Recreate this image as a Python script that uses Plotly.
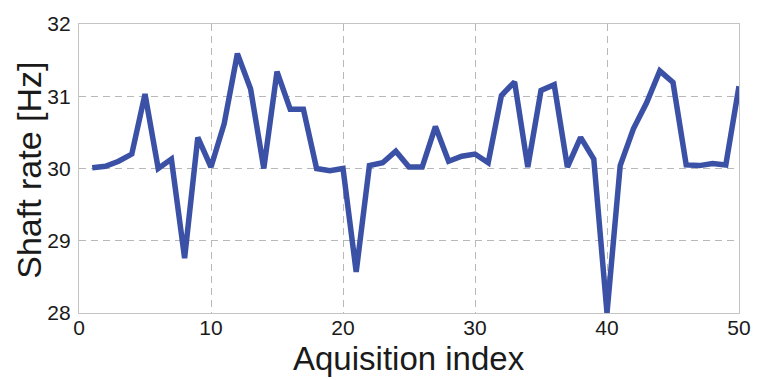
import plotly.graph_objects as go

acq_index = list(range(1, 51))
shaft_rate = [30.01, 30.03, 30.10, 30.20, 31.03, 30.00, 30.13, 28.76, 30.43, 30.02,
              30.62, 31.59, 31.10, 30.00, 31.34, 30.82, 30.82, 30.00, 29.97, 30.00,
              28.57, 30.04, 30.08, 30.24, 30.02, 30.02, 30.58, 30.10, 30.17, 30.20,
              30.08, 31.01, 31.20, 30.02, 31.08, 31.16, 30.02, 30.43, 30.13, 28.00,
              30.04, 30.55, 30.91, 31.35, 31.19, 30.05, 30.04, 30.07, 30.05, 31.14]
x_ticks = [0, 10, 20, 30, 40, 50]
y_ticks = [28, 29, 30, 31, 32]

FONT = "Liberation Sans, Arial, sans-serif"

fig = go.Figure()
fig.add_trace(go.Scatter(x=acq_index, y=shaft_rate, mode="lines",
                         line=dict(color="#3B51A6", width=5.5),
                         showlegend=False))

axis_common = dict(showgrid=True, griddash="7px,5px", gridcolor="#B8B8B8", gridwidth=1,
                   showline=True, linecolor="#C4C4C4", linewidth=1.2, mirror=True,
                   zeroline=False, ticks="", tickfont=dict(family=FONT, size=21, color="#1a1a1a"))

fig.update_layout(
    width=763, height=380,
    margin=dict(l=79, r=16, t=16, b=67),
    plot_bgcolor="white", paper_bgcolor="white",
    xaxis=dict(range=[0, 50], tickvals=x_ticks, ticklabelstandoff=-4, **axis_common),
    yaxis=dict(range=[28, 32], tickvals=y_ticks, ticklabelstandoff=3, **axis_common),
    annotations=[
        dict(text="Aquisition index", xref="paper", yref="paper", x=0.5, y=-0.158,
             xanchor="center", yanchor="middle", showarrow=False,
             font=dict(family=FONT, size=33, color="#1a1a1a")),
        dict(text="Shaft rate [Hz]", xref="paper", yref="paper", x=-0.076, y=0.495,
             xanchor="center", yanchor="middle", showarrow=False, textangle=-90,
             font=dict(family=FONT, size=34, color="#1a1a1a")),
    ],
)

fig.write_html("out.html")
